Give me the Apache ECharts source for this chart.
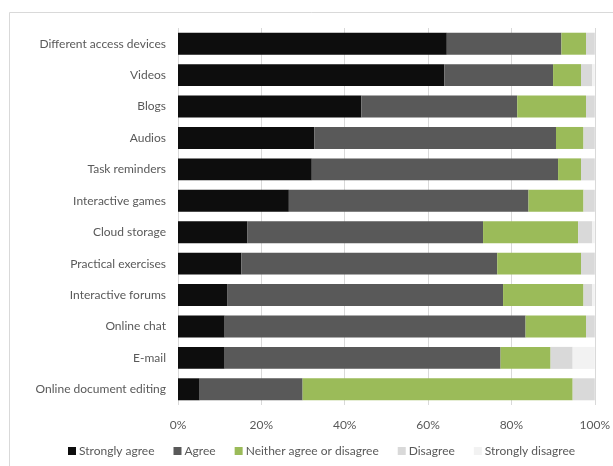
<!DOCTYPE html>
<html>
<head>
<meta charset="utf-8">
<script src="https://cdn.jsdelivr.net/npm/echarts@6/dist/echarts.min.js"></script>
<style>html,body{margin:0;padding:0;background:#fff;}#c{width:613px;height:466px;}</style>
</head>
<body>
<div id="c"></div>
<script>
var categories = ["Different access devices","Videos","Blogs","Audios","Task reminders","Interactive games","Cloud storage","Practical exercises","Interactive forums","Online chat","E-mail","Online document editing"];
var seriesNames = ["Strongly agree","Agree","Neither agree or disagree","Disagree","Strongly disagree"];
var stronglyAgree = [64.5, 63.9, 44.0, 32.7, 32.1, 26.6, 16.6, 15.2, 11.9, 11.2, 11.2, 5.2];
var agree = [27.5, 26.1, 37.4, 58.0, 59.1, 57.5, 56.6, 61.4, 66.1, 72.2, 66.2, 24.7];
var neither = [5.9, 6.7, 16.5, 6.6, 5.5, 13.2, 22.8, 20.1, 19.3, 14.5, 12.0, 64.8];
var disagree = [2.1, 2.7, 2.1, 2.7, 3.3, 2.7, 3.4, 3.3, 2.1, 2.1, 5.3, 5.3];
var stronglyDisagree = [0, 0.6, 0, 0, 0, 0, 0.6, 0, 0.6, 0, 5.3, 0];
var xTicks = [0, 20, 40, 60, 80, 100];
var colors = ["#0d0d0d","#595959","#9bbb59","#d9d9d9","#f2f2f2"];
var values = [stronglyAgree, agree, neither, disagree, stronglyDisagree];
var font = "Lato, sans-serif";

var chart = echarts.init(document.getElementById('c'), null, {renderer:'canvas'});
chart.setOption({
  animation: false,
  backgroundColor: '#fff',
  color: colors,
  graphic: [{type:'rect', shape:{x:9.5, y:12.5, width:700, height:600}, style:{fill:'none', stroke:'#d9d9d9', lineWidth:1}, silent:true}],
  grid: {left:178, right:15, top:28, bottom:61, containLabel:false},
  legend: {
    left: 63, top: 440, icon: 'rect', itemWidth: 8, itemHeight: 8, itemGap: 19,
    textStyle: {fontFamily: font, fontSize: 12, color: '#595959', padding:[0,0,0,-2]},
    data: seriesNames
  },
  xAxis: {
    type: 'value', min: xTicks[0], max: xTicks[xTicks.length-1], interval: 20,
    axisLine: {show:false}, axisTick: {show:false},
    splitLine: {show:true, lineStyle:{color:'#d9d9d9', width:1}},
    axisLabel: {formatter: '{value}%', margin: 14, fontFamily: font, fontSize: 12, color: '#595959'}
  },
  yAxis: {
    type: 'category', inverse: true, data: categories,
    axisLine: {show:false}, axisTick: {show:false},
    axisLabel: {margin: 12, fontFamily: font, fontSize: 12, color: '#595959'}
  },
  series: seriesNames.map(function(n, i){
    return {
      name: n, type: 'bar', stack: 'total', data: values[i],
      barCategoryGap: '30%',
      itemStyle: {color: colors[i]}
    };
  })
});
</script>
</body>
</html>
